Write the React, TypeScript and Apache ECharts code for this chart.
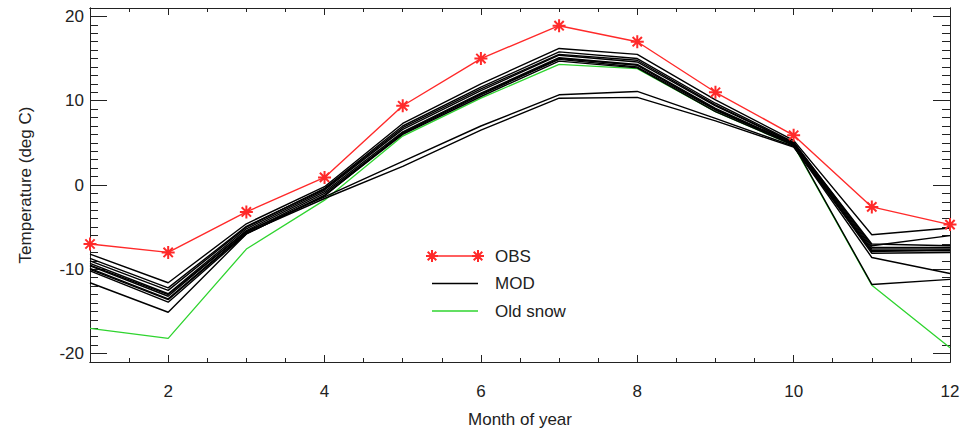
import React, { useEffect, useRef } from "react";
import * as echarts from "echarts";

// ---- data ----
const months = [1, 2, 3, 4, 5, 6, 7, 8, 9, 10, 11, 12];
const obs = [-7.0, -8.0, -3.2, 0.9, 9.4, 15.0, 18.9, 17.0, 11.0, 5.9, -2.6, -4.7];
const oldSnow = [-17.0, -18.2, -7.6, -1.8, 5.8, 10.3, 14.3, 13.8, 8.7, 4.7, -11.9, -19.3];
const mod1 = [-8.2, -11.6, -4.6, -0.2, 7.3, 12.0, 16.2, 15.5, 10.1, 5.3, -5.9, -5.1];
const mod2 = [-9.0, -12.5, -5.0, -0.4, 7.0, 11.6, 15.8, 15.0, 9.7, 5.1, -7.2, -6.0];
const mod3 = [-9.3, -12.9, -5.2, -0.6, 6.6, 11.2, 15.4, 14.6, 9.4, 5.0, -7.4, -7.4];
const mod4 = [-9.6, -13.2, -5.4, -0.8, 6.3, 10.9, 15.1, 14.3, 9.1, 4.9, -7.6, -7.6];
const mod5 = [-9.9, -13.5, -5.6, -1.0, 6.1, 10.7, 14.9, 14.0, 8.9, 4.8, -7.8, -7.8];
const mod6 = [-10.2, -13.9, -5.8, -1.2, 6.0, 10.5, 14.7, 13.9, 8.7, 4.7, -8.1, -8.0];
const mod7 = [-9.5, -13.0, -5.5, -1.4, 2.8, 7.0, 10.7, 11.1, 7.9, 4.6, -8.6, -10.5];
const mod8 = [-10.0, -13.6, -5.7, -1.6, 2.2, 6.5, 10.3, 10.4, 7.6, 4.5, -7.9, -7.7];
const mod9 = [-11.6, -15.1, -5.8, -1.3, 6.2, 10.8, 15.0, 14.2, 9.0, 4.8, -11.8, -11.2];
const mod10 = [-8.7, -12.2, -4.9, -0.5, 6.8, 11.4, 15.5, 14.8, 9.5, 5.0, -7.0, -7.2];
const modRuns = [mod1, mod2, mod3, mod4, mod5, mod6, mod7, mod8, mod9, mod10];

const xMajor = [2, 4, 6, 8, 10, 12];
const yMajor = [-20, -10, 0, 10, 20];
const legendNames = ["OBS", "MOD", "Old snow"];

const FONT = "'Liberation Sans', Arial, Helvetica, sans-serif";
const FS = 17;
const AX = "#222";
const RED = "#ff2a2a";
const GREEN = "#2fd42f";
const ASTER = "M-6,0L6,0M0,-6L0,6M-4.3,-4.3L4.3,4.3M-4.3,4.3L4.3,-4.3";

const toPts = (arr: number[]) => months.map((m, i) => [m, arr[i]]);

export default function App() {
  const ref = useRef<HTMLDivElement>(null);
  useEffect(() => {
    if (!ref.current) return;
    try {
      echarts.graphic.registerShape("asterisk", echarts.graphic.extendPath(ASTER, {}) as any);
    } catch (e) {}
    const chart = echarts.init(ref.current, undefined, { renderer: "svg" });

    const xBase = { type: "value", min: 1, max: 12, splitLine: { show: false } };
    const yBase = { type: "value", min: -21, max: 21, splitLine: { show: false } };
    const line = { show: true, onZero: false, lineStyle: { color: AX, width: 1 } };

    const series: any[] = [];
    series.push({
      name: "Old snow",
      type: "line",
      data: toPts(oldSnow),
      showSymbol: false,
      lineStyle: { color: GREEN, width: 1.3 },
      itemStyle: { color: GREEN },
      z: 2,
    });
    modRuns.forEach((r) =>
      series.push({
        name: "MOD",
        type: "line",
        data: toPts(r),
        showSymbol: false,
        lineStyle: { color: "#000", width: 1.4 },
        itemStyle: { color: "#000" },
        z: 3,
      })
    );
    series.push({
      name: "OBS",
      type: "line",
      data: toPts(obs),
      symbol: "path://" + ASTER,
      symbolSize: 13,
      lineStyle: { color: RED, width: 1.4 },
      itemStyle: { color: RED, borderColor: RED, borderWidth: 2 },
      z: 4,
    });

    const legendTop = 256;
    const gap = 27.5;
    const lx0 = 432;
    const lx1 = 478;
    const graphic: any[] = [];
    const lcolors = [RED, "#000", GREEN];
    legendNames.forEach((n, i) => {
      const y = legendTop + i * gap;
      graphic.push({
        type: "line",
        shape: { x1: lx0, y1: y, x2: lx1, y2: y },
        style: { stroke: lcolors[i], lineWidth: 1.4 },
        z: 10,
      });
      graphic.push({
        type: "text",
        x: 495,
        y: y,
        style: { text: n, fill: "#222", font: `${FS}px ${FONT}`, textVerticalAlign: "middle" },
        z: 10,
      });
    });
    [lx0, lx1].forEach((x) =>
      graphic.push({
        type: "asterisk",
        x,
        y: legendTop,
        style: { stroke: RED, lineWidth: 2, fill: null },
        z: 11,
      })
    );

    chart.setOption({
      animation: false,
      textStyle: { fontFamily: FONT },
      grid: { left: 90, right: 28, top: 8, bottom: 72, containLabel: false },
      xAxis: [
        {
          ...xBase,
          position: "bottom",
          axisLine: line,
          axisTick: { show: true, inside: true, length: 7, customValues: xMajor, lineStyle: { color: AX } },
          axisLabel: { customValues: xMajor, fontSize: FS, color: AX, margin: 21, fontFamily: FONT },
          name: "Month of year",
          nameLocation: "middle",
          nameGap: 49,
          nameTextStyle: { fontSize: FS, color: AX, fontFamily: FONT },
        },
        {
          ...xBase,
          position: "bottom",
          interval: 0.5,
          axisLine: line,
          axisTick: { show: true, inside: true, length: 4, lineStyle: { color: AX } },
          axisLabel: { show: false },
        },
        {
          ...xBase,
          position: "top",
          axisLine: line,
          axisTick: { show: true, inside: true, length: 7, customValues: xMajor, lineStyle: { color: AX } },
          axisLabel: { show: false },
        },
        {
          ...xBase,
          position: "top",
          interval: 0.5,
          axisLine: line,
          axisTick: { show: true, inside: true, length: 4, lineStyle: { color: AX } },
          axisLabel: { show: false },
        },
      ],
      yAxis: [
        {
          ...yBase,
          position: "left",
          axisLine: line,
          axisTick: { show: true, inside: true, length: 17, customValues: yMajor, lineStyle: { color: AX } },
          axisLabel: { customValues: yMajor, fontSize: FS, color: AX, margin: 6, fontFamily: FONT },
          name: "Temperature (deg C)",
          nameLocation: "middle",
          nameGap: 56,
          nameTextStyle: { fontSize: FS, color: AX, fontFamily: FONT },
        },
        {
          ...yBase,
          position: "left",
          interval: 1,
          axisLine: line,
          axisTick: { show: true, inside: true, length: 8, lineStyle: { color: AX } },
          axisLabel: { show: false },
        },
        {
          ...yBase,
          position: "right",
          axisLine: line,
          axisTick: { show: true, inside: true, length: 17, customValues: yMajor, lineStyle: { color: AX } },
          axisLabel: { show: false },
        },
        {
          ...yBase,
          position: "right",
          interval: 1,
          axisLine: line,
          axisTick: { show: true, inside: true, length: 8, lineStyle: { color: AX } },
          axisLabel: { show: false },
        },
      ],
      series,
      graphic,
    });
    return () => chart.dispose();
  }, []);
  return (
    <div
      ref={ref}
      style={{ position: "absolute", left: 0, top: 0, width: 978, height: 434, background: "#fff" }}
    />
  );
}
